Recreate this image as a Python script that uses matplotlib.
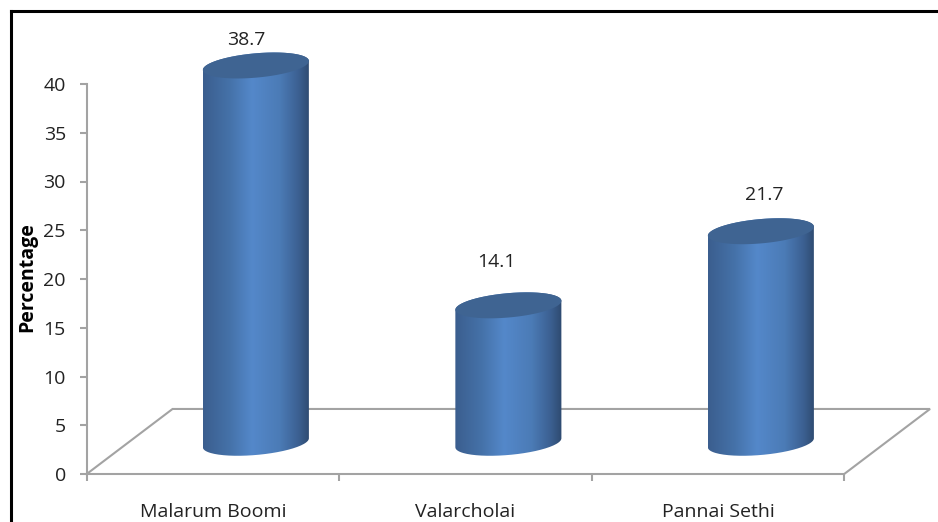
import numpy as np
import matplotlib
matplotlib.use('Agg')
import matplotlib.pyplot as plt
from matplotlib.path import Path
from matplotlib.patches import PathPatch
from matplotlib.colors import LinearSegmentedColormap

plt.rcParams['font.family'] = ['Open Sans', 'DejaVu Sans']

categories = ['Malarum Boomi', 'Valarcholai', 'Pannai Sethi']
values = [38.7, 14.1, 21.7]
yticks = [0, 5, 10, 15, 20, 25, 30, 35, 40]

# layout of the fake 3d floor, in axis units
depth_x = 0.34
depth_y = 6.67
base_x = 0.17
base_y = 3.2
radius = 0.21
ell_b = 1.25
ell_k = 0.46
label_gap = [2.6, 4.4, 3.75]
label_dx = [-0.04, -0.048, 0.013]

GREY = '#a3a3a3'
TEXT = '#222222'
side = LinearSegmentedColormap.from_list('side', [
    (0.0, '#3b5e8e'), (0.25, '#4572a9'), (0.46, '#5488ca'),
    (0.72, '#4b7bb6'), (0.9, '#3b5f90'), (1.0, '#2e4a70')])

fig = plt.figure(figsize=(9.38, 5.22), dpi=100)
ax = fig.add_axes([86.7/938, 48/522, 757.5/938, 390/522])
ax.patch.set_alpha(0)

for s in ['top', 'right', 'bottom']:
    ax.spines[s].set_visible(False)
ax.spines['left'].set_color(GREY)
ax.spines['left'].set_linewidth(1.5)

# floor
ax.plot([0, depth_x, 3 + depth_x, 3, 0], [0, depth_y, depth_y, 0, 0],
        color=GREY, lw=1.5, clip_on=False, zorder=1, solid_joinstyle='miter')

t = np.linspace(0, 2*np.pi, 200)
for i, v in enumerate(values):
    cx = i + 0.5 + base_x
    top = base_y + v
    # lower half of the base ellipse + upper half of the top one
    tt = np.linspace(np.pi, 2*np.pi, 80)
    bx = cx + radius*np.cos(tt)
    by = base_y - ell_b*np.abs(np.sin(tt)) + ell_k*np.cos(tt)
    ux = cx + radius*np.cos(tt[::-1])
    uy = top + ell_b*np.abs(np.sin(tt[::-1])) + ell_k*np.cos(tt[::-1])
    verts = np.vstack([np.c_[bx, by], np.c_[ux, uy], [[bx[0], by[0]]]])
    body = PathPatch(Path(verts), facecolor='none', edgecolor='none',
                     transform=ax.transData, clip_on=False)
    ax.add_patch(body)
    grad = np.linspace(0, 1, 256).reshape(1, -1)
    im = ax.imshow(grad, cmap=side, aspect='auto', zorder=3, interpolation='bilinear',
                   extent=[cx - radius, cx + radius, base_y - 2, top + 2])
    im.set_clip_box(fig.bbox)
    im.set_clip_path(body)
    # top face
    ax.fill(cx + radius*np.cos(t), top + ell_b*np.sin(t) + ell_k*np.cos(t),
            color='#3f6492', lw=0, zorder=4, clip_on=False)
    ax.text(cx + label_dx[i], top + label_gap[i], str(v), ha='center', va='center',
            fontsize=14, color=TEXT, zorder=5, clip_on=False)

ax.set_xlim(0, 3)
ax.set_ylim(0, 40)

ax.set_xticks([0, 1, 2, 3])
ax.set_xticklabels([])
ax.set_xticks([0.5, 1.5, 2.5], labels=categories, minor=True)
ax.tick_params(axis='x', which='major', length=5, width=1.5, color=GREY)
ax.tick_params(axis='x', which='minor', length=0, pad=21, labelsize=14, labelcolor=TEXT)
ax.set_yticks(yticks)
ax.tick_params(axis='y', length=5, width=1.5, color=GREY, pad=10, labelsize=14, labelcolor=TEXT)
plt.setp(ax.get_yticklabels(), va='center_baseline')
ax.set_ylabel('Percentage', fontsize=14, fontweight='bold', color='black', labelpad=4.5, y=0.505)

# outer frame, open at the bottom and right
fig.add_artist(plt.Line2D([10.5/938, 10.5/938], [0, 1 - 10.5/522], color='black', lw=2.2))
fig.add_artist(plt.Line2D([10.5/938, 1], [1 - 10.5/522, 1 - 10.5/522], color='black', lw=2.2))

fig.savefig('out.png', dpi=100)
